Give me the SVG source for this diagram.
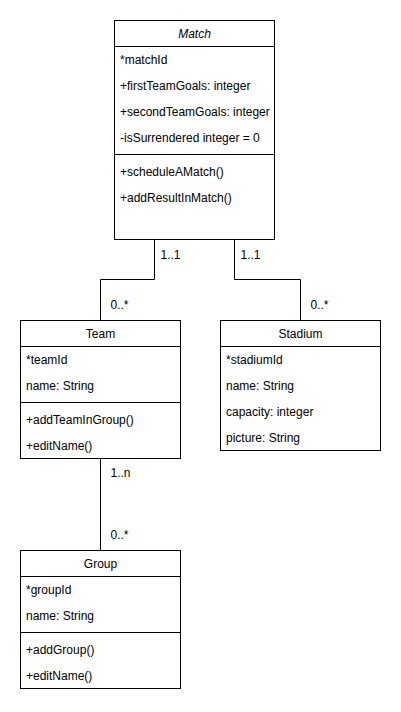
<svg xmlns="http://www.w3.org/2000/svg" width="401" height="712" viewBox="0 0 401 712">
<style>
.box{fill:#fff;stroke:#000;stroke-width:1}
.ln{fill:none;stroke:#000;stroke-width:1}
text{font-family:"Liberation Sans",Arial,Helvetica,sans-serif;font-size:12px;fill:#000}
.hd{text-anchor:middle}
.it{font-style:italic}
</style>
<rect width="401" height="712" fill="#fff"/>
<g id="connectors">
<path class="ln" d="M154.5 239.5 V279.5 H100.5 V320.5"/>
<path class="ln" d="M234.5 239.5 V279.5 H300.5 V320.5"/>
<path class="ln" d="M100.5 458.5 V550.5"/>
<text x="160.5" y="258.5">1..1</text>
<text x="110.5" y="308.5">0..*</text>
<text x="240.5" y="258.5">1..1</text>
<text x="310.5" y="308.5">0..*</text>
<text x="110.5" y="476.5">1..n</text>
<text x="110.5" y="538.5">0..*</text>
</g>
<g id="match">
<rect class="box" x="114.5" y="20.5" width="160" height="219"/>
<path class="ln" d="M114.5 46.5 H274.5 M114.5 154.5 H274.5"/>
<text class="hd it" x="194.5" y="38">Match</text>
<text x="120" y="64">*matchId</text>
<text x="120" y="90">+firstTeamGoals: integer</text>
<text x="120" y="116">+secondTeamGoals: integer</text>
<text x="120" y="142">-isSurrendered integer = 0</text>
<text x="120" y="176">+scheduleAMatch()</text>
<text x="120" y="202">+addResultInMatch()</text>
</g>
<g id="team">
<rect class="box" x="20.5" y="320.5" width="160" height="138"/>
<path class="ln" d="M20.5 346.5 H180.5 M20.5 402.5 H180.5"/>
<text class="hd" x="100.5" y="338">Team</text>
<text x="26" y="364">*teamId</text>
<text x="26" y="390">name: String</text>
<text x="26" y="424">+addTeamInGroup()</text>
<text x="26" y="450">+editName()</text>
</g>
<g id="stadium">
<rect class="box" x="220.5" y="320.5" width="160" height="130"/>
<path class="ln" d="M220.5 346.5 H380.5"/>
<text class="hd" x="300.5" y="338">Stadium</text>
<text x="226" y="364">*stadiumId</text>
<text x="226" y="390">name: String</text>
<text x="226" y="416">capacity: integer</text>
<text x="226" y="442">picture: String</text>
</g>
<g id="group">
<rect class="box" x="20.5" y="550.5" width="160" height="138"/>
<path class="ln" d="M20.5 576.5 H180.5 M20.5 632.5 H180.5"/>
<text class="hd" x="100.5" y="568">Group</text>
<text x="26" y="594">*groupId</text>
<text x="26" y="620">name: String</text>
<text x="26" y="654">+addGroup()</text>
<text x="26" y="680">+editName()</text>
</g>
</svg>
